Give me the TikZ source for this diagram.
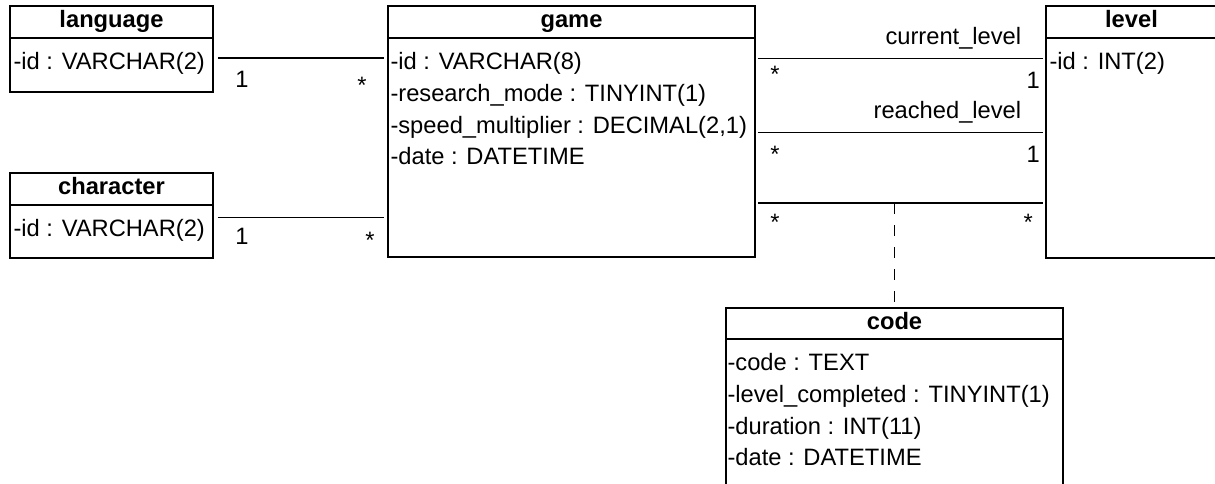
\documentclass[tikz,border=0pt]{standalone}
\usepackage{fontspec}
\setmainfont{Liberation Sans}
\usetikzlibrary{fit}

\begin{document}
\begin{tikzpicture}[x=0.5pt, y=-0.5pt,
	every node/.style={font=\fontsize{11.85}{15.85}\selectfont, inner sep=0pt},
	cls/.style={draw, line width=0.9pt},
	sep/.style={line width=0.9pt},
	title/.style={font=\fontsize{11.85}{15.85}\selectfont\bfseries, anchor=base},
	attr/.style={anchor=base west},
	assoc/.style={line width=0.9pt},
	mult/.style={anchor=center}]
	\useasboundingbox (0,0) rectangle (1215,483);
	% classes
	\node[cls, fit={(10,6) (213,92)}] (language) {};
	\draw[sep] ([shift={(0,33)}]language.north west) -- ([shift={(0,33)}]language.north east);
	\node[title] (language-t) at ([shift={(0,22.5)}]language.north) {language};
	\node[attr] (language-a) at ([shift={(4,64.5)}]language.north west) {-id : VARCHAR(2)};

	\node[cls, fit={(10,173) (213,258)}] (character) {};
	\draw[sep] ([shift={(0,33)}]character.north west) -- ([shift={(0,33)}]character.north east);
	\node[title] (character-t) at ([shift={(0,22.5)}]character.north) {character};
	\node[attr] (character-a) at ([shift={(4,64.5)}]character.north west) {-id : VARCHAR(2)};

	\node[cls, fit={(388,6) (755,257)}] (game) {};
	\draw[sep] ([shift={(0,33)}]game.north west) -- ([shift={(0,33)}]game.north east);
	\node[title] (game-t) at ([shift={(0,22.5)}]game.north) {game};
	\foreach \txt [count=\i from 0] in {{-id : VARCHAR(8)}, {-research\_mode : TINYINT(1)},
			{-speed\_multiplier : DECIMAL(2,1)}, {-date : DATETIME}}
		\node[attr] (game-a\i) at ([shift={(3,64.5+31.7*\i)}]game.north west) {\txt};

	\node[cls, fit={(1046,6) (1217,258)}] (level) {};
	\draw[sep] ([shift={(0,33)}]level.north west) -- ([shift={(0,33)}]level.north east);
	\node[title] (level-t) at ([shift={(0,22.5)}]level.north) {level};
	\node[attr] (level-a) at ([shift={(4,64.5)}]level.north west) {-id : INT(2)};

	\node[cls, fit={(726,308) (1063,495)}] (code) {};
	\draw[sep] ([shift={(0,32)}]code.north west) -- ([shift={(0,32)}]code.north east);
	\node[title] (code-t) at ([shift={(0,22)}]code.north) {code};
	\foreach \txt [count=\i from 0] in {{-code : TEXT}, {-level\_completed : TINYINT(1)},
			{-duration : INT(11)}, {-date : DATETIME}}
		\node[attr] (code-a\i) at ([shift={(2,63.5+31.7*\i)}]code.north west) {\txt};

	% associations
	\draw[assoc, shorten <=2pt, shorten >=1.5pt] (language.east |- 0,58) -- (game.west |- 0,58)
		node[mult, at start, shift={(28,21.5)}] {1}
		node[mult, at end, shift={(-25,27.4)}] {*};
	\draw[assoc, shorten <=2pt, shorten >=1.5pt] (character.east |- 0,217.5) -- (game.west |- 0,217.5)
		node[mult, at start, shift={(28,18.5)}] {1}
		node[mult, at end, shift={(-17,23)}] {*};

	\draw[assoc, shorten <=1pt, shorten >=1pt] (game.east |- 0,58.5) -- (level.west |- 0,58.5)
		node[mult, at start, shift={(19,16)}] {*}
		node[mult, at end, shift={(-12,22)}] {1}
		node[anchor=base east, at end, shift={(-23,-14.5)}] {current\_level};
	\draw[assoc, shorten <=1pt, shorten >=1pt] (game.east |- 0,132.5) -- (level.west |- 0,132.5)
		node[mult, at start, shift={(19,22)}] {*}
		node[mult, at end, shift={(-12,21.5)}] {1}
		node[anchor=base east, at end, shift={(-23,-14)}] {reached\_level};
	\draw[assoc, shorten <=1pt, shorten >=1pt] (game.east |- 0,203) coordinate (g3) -- (level.west |- 0,203)
		node[mult, at start, shift={(19,19.4)}] {*}
		node[mult, at end, shift={(-17,19.4)}] {*};

	\draw[assoc, dash pattern=on 5.5pt off 5.5pt] (code.north |- g3) -- (code.north);
\end{tikzpicture}
\end{document}
